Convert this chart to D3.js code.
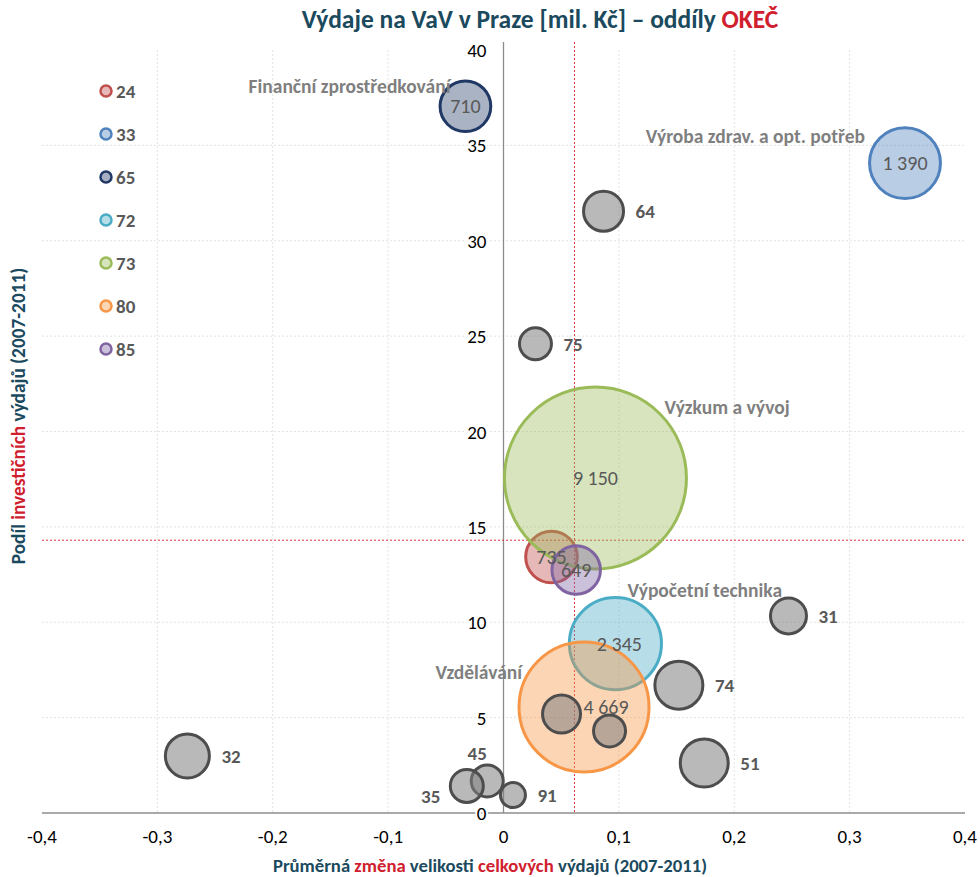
<!DOCTYPE html>
<html><head><meta charset="utf-8">
<script src="https://cdn.jsdelivr.net/npm/d3@7"></script>
<style>body{margin:0;background:#fff}svg{display:block}</style>
</head><body>
<svg id="c" width="980" height="877"></svg>
<script>
// ---- data ----
const codes   = ["24","33","65","72","73","80","85","64","75","31","74","51","32","45","35","91","",""];
const xChange = [0.0416,0.348,-0.033,0.097,0.0797,0.0698,0.063,0.0867,0.0277,0.247,0.152,0.174,-0.274,-0.0141,-0.0318,0.0082,0.0503,0.0919];
const yInvest = [13.42,34.07,37.05,8.88,17.56,5.56,12.74,31.55,24.6,10.33,6.7,2.62,2.99,1.68,1.42,0.94,5.19,4.3];
const spend   = [735,1390,710,2345,9150,4669,649,442,283,358,637,637,535,283,301,172,399,283];
const valueLabels = ["735","1 390","710","2 345","9 150","4 669","649","","","","","","","","","","",""];
const legendCodes = ["24","33","65","72","73","80","85"];
const sectorNames = ["Finanční zprostředkování","Výroba zdrav. a opt. potřeb","Výzkum a vývoj","Výpočetní technika","Vzdělávání"];
const sectorCodes = ["65","33","73","72","80"];
const xTicks = [-0.4,-0.3,-0.2,-0.1,0,0.1,0.2,0.3,0.4];
const yTicks = [0,5,10,15,20,25,30,35,40];
const meanX = 0.0615, meanY = 14.3;

// ---- styles ----
const colors = {"24":"#c0504d","33":"#4f81bd","65":"#1f3864","72":"#4bacc6","73":"#9bbb59","80":"#f79646","85":"#8064a2"};
const codeLabelPos = {"64":"right","75":"right","31":"right","74":"right","51":"right","32":"right","45":"above","35":"left","91":"right"};
const sectorLabelPlace = {"65":["end",-15,-13],"33":["end",-40,-20],"73":["start",69,-64],"72":["start",12,-47],"80":["end",-62,-28]};
const FONT = "Carlito, Lato, 'Open Sans', sans-serif";

const svg = d3.select("#c");
const x = d3.scaleLinear().domain([-0.4,0.4]).range([42,965]);
const y = d3.scaleLinear().domain([0,40]).range([813,50]);
const r = d3.scaleSqrt().domain([0,9150]).range([0,91]);

// gridlines
svg.append("g").selectAll("line").data(xTicks.filter(d=>d!==0 && Math.abs(d)<0.4)).join("line")
  .attr("x1",d=>x(d)).attr("x2",d=>x(d)).attr("y1",y(40)).attr("y2",y(0))
  .attr("stroke","#e2e2e2").attr("stroke-dasharray","2,2");
svg.append("g").selectAll("line").data(yTicks.filter(d=>d>0 && d<40)).join("line")
  .attr("x1",x(-0.4)).attr("x2",x(0.4)).attr("y1",d=>y(d)).attr("y2",d=>y(d))
  .attr("stroke","#e2e2e2").attr("stroke-dasharray","2,2");

// axes lines
svg.append("line").attr("x1",x(-0.4)).attr("x2",x(0.4)).attr("y1",y(0)).attr("y2",y(0)).attr("stroke","#8c8c8c").attr("stroke-width",1.5);
svg.append("line").attr("x1",x(0)).attr("x2",x(0)).attr("y1",y(40)-8).attr("y2",y(0)).attr("stroke","#8c8c8c").attr("stroke-width",1.3);

// mean lines
svg.append("line").attr("x1",x(meanX)).attr("x2",x(meanX)).attr("y1",y(40)-8).attr("y2",y(0))
  .attr("stroke","#e0303a").attr("stroke-width",1).attr("stroke-dasharray","2,2");
svg.append("line").attr("x1",x(-0.4)).attr("x2",x(0.4)).attr("y1",y(meanY)).attr("y2",y(meanY))
  .attr("stroke","#e0303a").attr("stroke-width",1).attr("stroke-dasharray","2,2");

// tick labels
const fmt = d => d===0 ? "0" : d3.format(".1f")(d).replace(".",",").replace("\u2212","-");
svg.append("g").selectAll("text").data(xTicks).join("text")
  .attr("x",d=>x(d)).attr("y",y(0)+30).attr("text-anchor","middle")
  .attr("font-family",FONT).attr("font-size",19).attr("fill","#000").text(fmt);
svg.append("g").selectAll("text").data(yTicks).join("text")
  .attr("x",x(0)-17).attr("y",d=>y(d)+7).attr("text-anchor","end")
  .attr("font-family",FONT).attr("font-size",19).attr("fill","#000")
  .attr("stroke","#fff").attr("stroke-width",4).attr("paint-order","stroke").text(d=>d);

// bubbles
const pts = codes.map((c,i)=>({code:c,x:xChange[i],y:yInvest[i],v:spend[i],lab:valueLabels[i],colored:!!colors[c]}));
const g = svg.append("g");
pts.forEach(p=>{
  const col = p.colored ? colors[p.code] : "#7f7f7f";
  g.append("circle").attr("cx",x(p.x)).attr("cy",y(p.y)).attr("r",r(p.v))
    .attr("fill",col).attr("fill-opacity",p.colored?(p.code==="65"?0.38:0.4):0.55)
    .attr("stroke",p.colored?col:"#4d4d4d").attr("stroke-width",3);
});
// value labels inside
pts.filter(p=>p.lab).forEach(p=>{
  g.append("text").attr("x",x(p.x)+(p.code==="80"?22:(p.code==="72"?4:0))).attr("y",y(p.y)+7)
    .attr("text-anchor","middle").attr("font-family",FONT).attr("font-size",20).attr("fill","#595959").text(p.lab);
});
// code labels for grey bubbles
pts.filter(p=>!p.colored && codeLabelPos[p.code]).forEach(p=>{
  const pos = codeLabelPos[p.code], rr = r(p.v);
  let tx = x(p.x), ty = y(p.y)+7, anchor="start";
  if(pos==="right"){tx += rr+12;}
  if(pos==="left"){tx -= rr+10; anchor="end"; ty += 10;}
  if(pos==="above"){tx -= 10; ty -= rr+12; anchor="middle";}
  g.append("text").attr("x",tx).attr("y",ty).attr("text-anchor",anchor)
    .attr("font-family",FONT).attr("font-weight","bold").attr("font-size",19).attr("fill","#595959").text(p.code);
});
// sector names
sectorNames.forEach((n,i)=>{
  const p = pts.find(q=>q.code===sectorCodes[i]);
  const pl = sectorLabelPlace[p.code];
  g.append("text").attr("x",x(p.x)+pl[1]).attr("y",y(p.y)+pl[2]).attr("text-anchor",pl[0])
    .attr("font-family",FONT).attr("font-weight","bold").attr("font-size",19.5).attr("fill","#7f7f7f").text(n);
});

// legend
const lg = svg.append("g");
legendCodes.forEach((c,i)=>{
  const cy = 91 + i*43;
  lg.append("circle").attr("cx",106).attr("cy",cy).attr("r",5.5)
    .attr("fill",colors[c]).attr("fill-opacity",0.4).attr("stroke",colors[c]).attr("stroke-width",2.5);
  lg.append("text").attr("x",116).attr("y",cy+7).attr("font-family",FONT).attr("font-weight","bold")
    .attr("font-size",19).attr("fill","#595959").text(c);
});

// title
const t = svg.append("text").attr("x",540).attr("y",28).attr("text-anchor","middle")
  .attr("font-family",FONT).attr("font-weight","bold").attr("font-size",25.5).attr("fill","#1b4a5e");
t.append("tspan").text("Výdaje na VaV v Praze [mil. Kč] – oddíly ");
t.append("tspan").attr("fill","#d0202e").text("OKEČ");

// x title
const xt = svg.append("text").attr("x",490).attr("y",872).attr("text-anchor","middle")
  .attr("font-family",FONT).attr("font-weight","bold").attr("font-size",18.7).attr("fill","#1b4a5e");
[["Průměrná ",0],["změna",1],[" velikosti ",0],["celkových",1],[" výdajů (2007-2011)",0]]
  .forEach(([s,red])=>xt.append("tspan").attr("fill",red?"#d0202e":"#1b4a5e").text(s));

// y title
const yt = svg.append("text").attr("transform","translate(25,416) rotate(-90)").attr("text-anchor","middle")
  .attr("font-family",FONT).attr("font-weight","bold").attr("font-size",19.3).attr("fill","#1b4a5e");
[["Podíl ",0],["investičních",1],[" výdajů (2007-2011)",0]]
  .forEach(([s,red])=>yt.append("tspan").attr("fill",red?"#d0202e":"#1b4a5e").text(s));
</script>
</body></html>
